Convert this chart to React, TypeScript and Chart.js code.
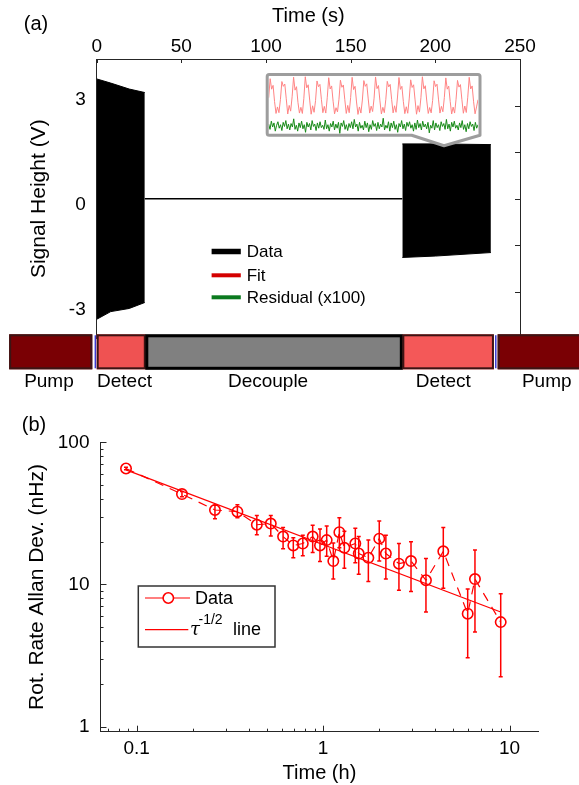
import React, { useEffect, useRef } from "react";
import { Chart, registerables } from "chart.js";

Chart.register(...registerables);

const SANS = '"Liberation Sans", Arial, Helvetica, sans-serif';
const AXIS = "#262626";

// ---------------- Panel (a): signal height vs time ----------------
const timeTicksS = [0, 50, 100, 150, 200, 250];
const signalTicks = [-3, 0, 3];
const rightAxisTicks = [-2, -1, 0, 1, 2];

const detect1Time = [0, 8.3, 19.2, 28.4];
const detect1Upper = [3.43, 3.31, 3.14, 3.04];
const detect1Lower = [-3.45, -3.23, -3.14, -2.97];
const detect2Time = [180.5, 200, 232.8];
const detect2Upper = [1.57, 1.57, 1.55];
const detect2Lower = [-1.68, -1.64, -1.54];
const decoupleTime = [28.4, 180.5];
const decoupleSignal = [0, 0];

const legendALabels = ["Data", "Fit", "Residual (x100)"];
const legendAColors = ["#000000", "#d40000", "#0b7a1f"];

const phaseNames = ["Pump", "Detect", "Decouple", "Detect", "Pump"];
const phaseStart = [-51.7, 0, 29.0, 180.5, 236.8];
const phaseEnd = [-2.6, 29.0, 180.5, 234.6, 320];
const phaseLabelTime = [-28.2, 16.4, 101.2, 204.7, 265.8];
const phaseFill = ["#7a0004", "#ef5252", "#808080", "#f45858", "#7a0004"];
const phaseEdge = ["#3c1414", "#3c1414", "#000000", "#3c1414", "#3c1414"];
const pumpEndTime = [-0.8, 235.7];

// inset: fit (red) and residual x100 (green), by sample index
const insetFit = [
  -0.1, 0.9, 0.35, 0.55, -0.3, -0.92, -0.58, -0.88,
  -0.2, 0.75, 0.5, 0.62, -0.15, -0.95, -0.5, -0.8,
  -0.05, 0.98, 0.3, 0.48, -0.35, -0.9, -0.6, -0.92,
  -0.15, 1.0, 0.42, 0.58, -0.22, -0.96, -0.52, -0.86,
  -0.25, 0.78, 0.48, 0.6, -0.18, -0.88, -0.55, -0.9,
  -0.1, 0.95, 0.36, 0.52, -0.28, -0.94, -0.62, -0.84,
  -0.18, 0.82, 0.45, 0.57, -0.2, -0.92, -0.5, -0.88,
  -0.08, 0.97, 0.33, 0.5, -0.32, -0.97, -0.58, -0.9,
  -0.22, 0.8, 0.5, 0.63, -0.16, -0.9, -0.54, -0.82,
  -0.12, 0.99, 0.38, 0.54, -0.26, -0.95, -0.6, -0.88,
  -0.2, 0.76, 0.47, 0.6, -0.19, -0.89, -0.52, -0.86,
  -0.06, 0.96, 0.34, 0.5, -0.3, -0.93, -0.57, -0.91,
  -0.16, 0.84, 0.44, 0.58, -0.21, -0.96, -0.51, -0.85,
  -0.1, 1.0, 0.37, 0.53, -0.27, -0.92, -0.61, -0.89,
  -0.24, 0.79, 0.49, 0.61, -0.17, -0.9, -0.55, -0.83,
  -0.09, 0.94, 0.35, 0.51, -0.29, -0.95, -0.59, -0.9,
  -0.19, 0.81, 0.46, 0.59, -0.2, -0.91, -0.53, -0.87,
  -0.07, 0.97, 0.36, 0.52, -0.31, -0.94, -0.58, -0.2,
];
const insetResidual = [
  0.3, -0.6, 0.8, -0.2, 0.5, -0.9, 0.1, 0.7, -0.4, 0.2, -0.8, 0.6, -0.1, 0.9, -0.5, 0.3, -0.7, 0.4, -0.2, 1.2,
  -0.6, 0.1, -0.9, 0.5, -0.3, 0.8, -0.5, 0.2, -1.1, 0.6, -0.2, 0.4, -0.7, 0.9, -0.1, 0.3, -0.8, 0.5, -0.4, 0.7,
  -0.3, 0.1, -0.6, 1.0, -0.5, 0.2, -0.9, 0.4, -0.2, 0.8, -0.7, 0.3, -0.4, 0.6, -1.3, 0.5, -0.1, 0.9, -0.6, 0.2,
  -0.8, 0.4, -0.3, 0.7, -0.5, 1.1, -0.2, 0.3, -0.9, 0.6, -0.4, 0.1, -0.7, 0.8, -0.3, 0.5, -1.0, 0.2, -0.6, 0.9,
  -0.1, 0.4, -0.8, 0.6, -0.5, 0.3, -0.2, 1.3, -0.7, 0.1, -0.4, 0.7, -0.9, 0.5, -0.3, 0.8, -0.6, 0.2, -1.1, 0.4,
  -0.2, 0.9, -0.5, 0.3, -0.8, 0.6, -0.1, 0.7, -0.4, 0.2, -0.9, 0.5, -0.6, 1.0, -0.3, 0.4, -0.7, 0.8, -0.2, 0.3,
  -0.5, 0.6, -1.2, 0.1, -0.4, 0.9, -0.7, 0.5, -0.3, 0.2, -0.8, 0.7, -0.1, 0.4, -0.6, 1.1, -0.5, 0.3, -0.9, 0.6,
  -0.2, 0.8, -0.4, 0.1, -0.7, 0.5, -0.3, 0.9, -0.6, 0.2, -1.0, 0.4, -0.5, 0.7, -0.1, 0.3, -0.8, 0.6, -0.4, 0.2,
];

// ---------------- Panel (b): Allan deviation ----------------
const allanTime = [0.0877, 0.175, 0.263, 0.347, 0.441, 0.524, 0.61, 0.692, 0.778, 0.879, 0.962, 1.045, 1.134, 1.222, 1.3, 1.488, 1.552, 1.748, 2.0, 2.17, 2.55, 2.96, 3.56, 4.41, 5.96, 6.52, 8.96];
const allanDev = [65.4, 43.2, 33.4, 32.5, 26.3, 26.8, 21.7, 18.8, 19.4, 21.7, 18.8, 20.5, 14.6, 23.3, 18.1, 19.4, 16.5, 15.4, 21.0, 16.5, 14.0, 14.6, 10.7, 17.1, 6.22, 10.9, 5.43];
const allanHigh = [66.8, 45.0, 36.0, 36.3, 30.6, 30.6, 25.1, 21.3, 22.2, 26.1, 24.5, 25.8, 19.6, 29.5, 23.7, 24.8, 21.7, 20.5, 27.9, 22.2, 19.4, 20.0, 15.2, 25.1, 9.3, 17.5, 8.6];
const allanLow = [64.0, 41.4, 29.0, 29.5, 22.4, 21.9, 17.8, 15.4, 15.9, 16.8, 14.5, 15.8, 10.9, 18.1, 13.0, 14.2, 11.8, 10.5, 14.6, 10.9, 9.1, 8.9, 6.4, 9.4, 3.05, 4.63, 2.24];
const tauTime = [0.0877, 8.96];
const tauDev = [64.0, 6.4];

const hourMajor = [0.1, 1, 10];
const hourMinor = [0.07, 0.08, 0.09, 0.2, 0.3, 0.4, 0.5, 0.6, 0.7, 0.8, 0.9, 2, 3, 4, 5, 6, 7, 8, 9];
const devMajor = [1, 10, 100];
const devMinor = [2, 3, 4, 5, 6, 7, 8, 9, 20, 30, 40, 50, 60, 70, 80, 90];

const RED = "#ff0000";

function text(ctx: CanvasRenderingContext2D, s: string, x: number, y: number, font: string, align: CanvasTextAlign = "center", base: CanvasTextBaseline = "middle") {
  ctx.font = font;
  ctx.textAlign = align;
  ctx.textBaseline = base;
  ctx.fillStyle = "#000";
  ctx.fillText(s, x, y);
}

const panelAPlugin = {
  id: "panelA",
  afterDraw(chart: any) {
    const { ctx, chartArea: a, scales } = chart;
    const x = scales.x;
    const y2 = scales.y2;
    ctx.save();
    // right frame line
    ctx.strokeStyle = AXIS;
    ctx.lineWidth = 1;
    ctx.beginPath();
    ctx.moveTo(a.right + 0.5, a.top);
    ctx.lineTo(a.right + 0.5, a.bottom);
    ctx.stroke();
    // inward ticks on top axis
    ctx.beginPath();
    timeTicksS.forEach((v) => {
      const px = Math.round(x.getPixelForValue(v)) + 0.5;
      ctx.moveTo(px, a.top);
      ctx.lineTo(px, a.top + 4);
    });
    // inward ticks on right axis
    rightAxisTicks.forEach((v) => {
      const py = Math.round(y2.getPixelForValue(v)) + 0.5;
      ctx.moveTo(a.right, py);
      ctx.lineTo(a.right - 5, py);
    });
    ctx.stroke();

    // legend
    const legY = [251.5, 275.3, 297.3];
    const legW = [5.5, 4, 4];
    legendALabels.forEach((lab, i) => {
      ctx.strokeStyle = legendAColors[i];
      ctx.lineWidth = legW[i];
      ctx.beginPath();
      ctx.moveTo(211.6, legY[i]);
      ctx.lineTo(240.8, legY[i]);
      ctx.stroke();
      text(ctx, lab, 246.7, legY[i] + 1, `17px ${SANS}`, "left");
    });

    // phase bar
    const bt = 334.3;
    const bb = 369.3;
    phaseNames.forEach((name, i) => {
      const x0 = x.getPixelForValue(phaseStart[i]);
      const x1 = x.getPixelForValue(phaseEnd[i]);
      ctx.fillStyle = phaseFill[i];
      ctx.fillRect(x0, bt, x1 - x0, bb - bt);
    });
    phaseNames.forEach((name, i) => {
      const x0 = x.getPixelForValue(phaseStart[i]);
      const x1 = x.getPixelForValue(phaseEnd[i]);
      ctx.strokeStyle = phaseEdge[i];
      ctx.lineWidth = i === 2 ? 3 : 2;
      ctx.strokeRect(x0 + 1, bt + (i === 2 ? 1.5 : 1), x1 - x0 - 2, bb - bt - (i === 2 ? 2.5 : 2));
      text(ctx, name, x.getPixelForValue(phaseLabelTime[i]), 381.7, `19px ${SANS}`);
    });
    ctx.strokeStyle = "#3a3ad0";
    ctx.lineWidth = 1.5;
    pumpEndTime.forEach((t) => {
      const px = x.getPixelForValue(t);
      ctx.beginPath();
      ctx.moveTo(px, bt + 1);
      ctx.lineTo(px, bb - 1);
      ctx.stroke();
    });

    text(ctx, "(a)", 36, 24, `20px ${SANS}`);
    ctx.restore();
  },
};

const insetPath = (ctx: CanvasRenderingContext2D) => {
  const l = 4.2, t = 4.5, r = 217, b = 65.2, rad = 2;
  ctx.beginPath();
  ctx.moveTo(l + rad, t);
  ctx.lineTo(r - rad, t);
  ctx.quadraticCurveTo(r, t, r, t + rad);
  ctx.lineTo(r, b);
  ctx.lineTo(181, 75.8);
  ctx.lineTo(148.7, b);
  ctx.lineTo(l + rad, b);
  ctx.quadraticCurveTo(l, b, l, b - rad);
  ctx.lineTo(l, t + rad);
  ctx.quadraticCurveTo(l, t, l + rad, t);
  ctx.closePath();
};

const insetFramePlugin = {
  id: "insetFrame",
  beforeDraw(chart: any) {
    const ctx = chart.ctx;
    ctx.save();
    insetPath(ctx);
    ctx.fillStyle = "#ffffff";
    ctx.fill();
    ctx.restore();
  },
  afterDraw(chart: any) {
    const ctx = chart.ctx;
    ctx.save();
    insetPath(ctx);
    ctx.strokeStyle = "#9d9d9d";
    ctx.lineWidth = 3;
    ctx.lineJoin = "round";
    ctx.stroke();
    ctx.restore();
  },
};

const panelBPlugin = {
  id: "panelB",
  afterDatasetsDraw(chart: any) {
    const { ctx, scales } = chart;
    const x = scales.x;
    const y = scales.y;
    ctx.save();
    ctx.strokeStyle = RED;
    ctx.lineWidth = 1.5;
    ctx.beginPath();
    allanTime.forEach((t, i) => {
      const px = x.getPixelForValue(t);
      const ph = y.getPixelForValue(allanHigh[i]);
      const pl = y.getPixelForValue(allanLow[i]);
      ctx.moveTo(px, ph);
      ctx.lineTo(px, pl);
      ctx.moveTo(px - 2, ph);
      ctx.lineTo(px + 2, ph);
      ctx.moveTo(px - 2, pl);
      ctx.lineTo(px + 2, pl);
    });
    ctx.stroke();
    ctx.restore();
  },
  afterDraw(chart: any) {
    const { ctx, chartArea: a, scales } = chart;
    const x = scales.x;
    const y = scales.y;
    ctx.save();
    ctx.strokeStyle = AXIS;
    ctx.lineWidth = 1;
    ctx.beginPath();
    const xt = (vals: number[], len: number) =>
      vals.forEach((v) => {
        const px = Math.round(x.getPixelForValue(v)) + 0.5;
        ctx.moveTo(px, a.bottom);
        ctx.lineTo(px, a.bottom - len);
      });
    const yt = (vals: number[], len: number) =>
      vals.forEach((v) => {
        const py = Math.round(y.getPixelForValue(v)) + 0.5;
        ctx.moveTo(a.left, py);
        ctx.lineTo(a.left + len, py);
      });
    xt(hourMajor, 6);
    xt(hourMinor, 3);
    yt(devMajor, 6);
    yt(devMinor, 3);
    ctx.stroke();

    // legend box
    const L = 138.3, T = 186, R = 275, B = 247;
    ctx.fillStyle = "#fff";
    ctx.fillRect(L, T, R - L, B - T);
    ctx.strokeStyle = "#333";
    ctx.lineWidth = 1.5;
    ctx.strokeRect(L, T, R - L, B - T);
    const y1 = 198;
    const y2 = 229.7;
    ctx.strokeStyle = RED;
    ctx.lineWidth = 1.2;
    ctx.beginPath();
    ctx.moveTo(145, y1);
    ctx.lineTo(190, y1);
    ctx.moveTo(145, y2);
    ctx.lineTo(188.3, y2);
    ctx.stroke();
    ctx.fillStyle = "#fff";
    ctx.lineWidth = 1.6;
    ctx.beginPath();
    ctx.arc(168.3, y1, 5.2, 0, Math.PI * 2);
    ctx.fill();
    ctx.stroke();
    text(ctx, "Data", 195, 204.4, `18px ${SANS}`, "left", "alphabetic");
    text(ctx, "\u03C4", 190, 235.3, `italic 18px "DejaVu Serif", serif`, "left", "alphabetic");
    text(ctx, "-1/2", 198.5, 223.7, `14px ${SANS}`, "left", "alphabetic");
    text(ctx, "line", 233, 235.3, `18px ${SANS}`, "left", "alphabetic");

    text(ctx, "(b)", 34, 25, `20px ${SANS}`);
    ctx.restore();
  },
};

export default function App() {
  const refA = useRef<HTMLCanvasElement>(null);
  const refInset = useRef<HTMLCanvasElement>(null);
  const refB = useRef<HTMLCanvasElement>(null);

  useEffect(() => {
    const pts = (xs: number[], ys: number[]) => xs.map((v, i) => ({ x: v, y: ys[i] }));
    const tickFont = { family: SANS, size: 19 };

    const chartA = new Chart(refA.current as HTMLCanvasElement, {
      type: "line",
      data: {
        datasets: [
          { data: pts(detect1Time, detect1Upper), borderColor: "#000", borderWidth: 1, pointRadius: 0, fill: false },
          { data: pts(detect1Time, detect1Lower), borderColor: "#000", borderWidth: 1, pointRadius: 0, fill: "-1", backgroundColor: "#000" },
          { data: pts(detect2Time, detect2Upper), borderColor: "#000", borderWidth: 1, pointRadius: 0, fill: false },
          { data: pts(detect2Time, detect2Lower), borderColor: "#000", borderWidth: 1, pointRadius: 0, fill: "-1", backgroundColor: "#000" },
          { data: pts(decoupleTime, decoupleSignal), borderColor: "#000", borderWidth: 1.3, pointRadius: 0, fill: false },
        ],
      } as any,
      options: {
        animation: false,
        responsive: false,
        events: [],
        layout: { padding: { left: 0, right: 59, top: 0, bottom: 61.5 } },
        scales: {
          x: {
            type: "linear",
            position: "top",
            min: 0,
            max: 250,
            afterBuildTicks: (s: any) => {
              s.ticks = timeTicksS.map((v) => ({ value: v }));
            },
            ticks: { font: tickFont, color: "#000", padding: 1, maxRotation: 0 },
            grid: { display: false, drawTicks: false },
            border: { display: true, color: AXIS, width: 1 },
            title: { display: true, text: "Time (s)", color: "#000", font: { family: SANS, size: 20 }, padding: { top: 4, bottom: 0 } },
            afterFit: (s: any) => {
              s.height = 59;
            },
          },
          y: {
            type: "linear",
            min: -4,
            max: 4,
            afterBuildTicks: (s: any) => {
              s.ticks = signalTicks.map((v) => ({ value: v }));
            },
            ticks: { font: tickFont, color: "#000", padding: 11, labelOffset: 6 },
            grid: { display: false, drawTicks: false },
            border: { display: true, color: AXIS, width: 1 },
            title: { display: true, text: "Signal Height (V)", color: "#000", font: { family: SANS, size: 21 }, padding: { top: 27, bottom: 0 } },
            afterFit: (s: any) => {
              s.width = 96.7;
            },
          },
          y2: { type: "linear", display: false, min: -3, max: 3 },
        },
        plugins: { legend: { display: false }, tooltip: { enabled: false } },
      } as any,
      plugins: [panelAPlugin],
    });

    const chartInset = new Chart(refInset.current as HTMLCanvasElement, {
      type: "line",
      data: {
        datasets: [
          {
            data: insetFit.map((v, i) => ({ x: i, y: v })),
            xAxisID: "xFit",
            yAxisID: "yFit",
            borderColor: "#ff8484",
            borderWidth: 1,
            pointRadius: 0,
          },
          {
            data: insetResidual.map((v, i) => ({ x: i, y: v })),
            xAxisID: "xRes",
            yAxisID: "yRes",
            borderColor: "#178a17",
            borderWidth: 1,
            pointRadius: 0,
          },
        ],
      } as any,
      options: {
        animation: false,
        responsive: false,
        events: [],
        layout: { padding: { left: 5.7, right: 6, top: 6, bottom: 17.3 } },
        scales: {
          xFit: { type: "linear", display: false, min: 0, max: insetFit.length - 1 },
          xRes: { type: "linear", display: false, min: 0, max: insetResidual.length - 1 },
          yFit: { type: "linear", display: false, min: -1.98, max: 1.04 },
          yRes: { type: "linear", display: false, min: -1.34, max: 8.52 },
        },
        plugins: { legend: { display: false }, tooltip: { enabled: false } },
      } as any,
      plugins: [insetFramePlugin],
    });

    const chartB = new Chart(refB.current as HTMLCanvasElement, {
      type: "line",
      data: {
        datasets: [
          {
            data: pts(allanTime, allanDev),
            borderColor: RED,
            borderWidth: 1.2,
            borderDash: [9, 7],
            pointRadius: 5.2,
            pointBorderWidth: 1.6,
            pointBorderColor: RED,
            pointBackgroundColor: "rgba(0,0,0,0)",
            fill: false,
          },
          {
            data: pts(tauTime, tauDev),
            borderColor: RED,
            borderWidth: 1.2,
            pointRadius: 0,
            fill: false,
          },
        ],
      } as any,
      options: {
        animation: false,
        responsive: false,
        events: [],
        layout: { padding: { left: 0, right: 40.6, top: 42.3, bottom: 0 } },
        scales: {
          x: {
            type: "logarithmic",
            min: 0.064,
            max: 14.27,
            afterBuildTicks: (s: any) => {
              s.ticks = hourMajor.map((v) => ({ value: v }));
            },
            ticks: { font: tickFont, color: "#000", padding: 6, maxRotation: 0, autoSkip: false, callback: (v: any) => String(v) },
            grid: { display: false, drawTicks: false },
            border: { display: true, color: AXIS, width: 1 },
            title: { display: true, text: "Time (h)", color: "#000", font: { family: SANS, size: 20 }, padding: { top: 0, bottom: 0 } },
            afterFit: (s: any) => {
              s.height = 53.3;
            },
          },
          y: {
            type: "logarithmic",
            min: 0.92,
            max: 100,
            afterBuildTicks: (s: any) => {
              s.ticks = devMajor.map((v) => ({ value: v }));
            },
            ticks: { font: tickFont, color: "#000", padding: 11, autoSkip: false, callback: (v: any) => String(v) },
            grid: { display: false, drawTicks: false },
            border: { display: true, color: AXIS, width: 1 },
            title: { display: true, text: "Rot. Rate Allan Dev. (nHz)", color: "#000", font: { family: SANS, size: 21 }, padding: { top: 24.4, bottom: 0 } },
            afterFit: (s: any) => {
              s.width = 100.5;
            },
          },
        },
        plugins: { legend: { display: false }, tooltip: { enabled: false } },
      } as any,
      plugins: [panelBPlugin],
    });

    return () => {
      chartA.destroy();
      chartInset.destroy();
      chartB.destroy();
    };
  }, []);

  return (
    <div style={{ position: "absolute", left: 0, top: 0, width: 579, height: 785, background: "#fff", overflow: "hidden" }}>
      <canvas ref={refA} width={579} height={400} style={{ position: "absolute", left: 0, top: 0, display: "block" }} />
      <canvas ref={refInset} width={221} height={81} style={{ position: "absolute", left: 263, top: 70, display: "block" }} />
      <canvas ref={refB} width={579} height={385} style={{ position: "absolute", left: 0, top: 400, display: "block" }} />
    </div>
  );
}
